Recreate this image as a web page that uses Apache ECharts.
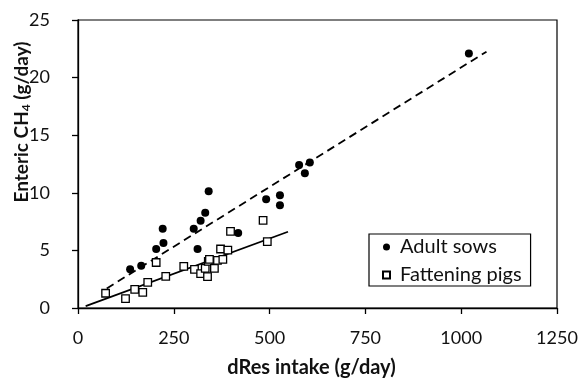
<!DOCTYPE html>
<html>
<head>
<meta charset="utf-8">
<script src="https://cdn.jsdelivr.net/npm/echarts@6/dist/echarts.min.js"></script>
<style>
html,body{margin:0;padding:0;background:#fff;}
#chart{width:582px;height:379px;}
</style>
</head>
<body>
<div id="chart"></div>
<script>
// Adult sows (dRes intake g/day, CH4 g/day)
var sowsX = [136, 165, 204, 223, 221, 302, 320, 332, 341, 312, 418, 491, 527, 527, 577, 605, 592, 1020];
var sowsY = [3.36, 3.67, 5.12, 5.64, 6.88, 6.88, 7.58, 8.27, 10.13, 5.12, 6.51, 9.43, 9.78, 8.92, 12.41, 12.62, 11.69, 22.1];
// Fattening pigs
var pigsX = [72, 124, 148, 169, 182, 204, 229, 276, 304, 320, 332, 338, 340, 343, 356, 364, 378, 372, 391, 398, 483, 494];
var pigsY = [1.28, 0.82, 1.62, 1.36, 2.23, 3.95, 2.75, 3.62, 3.36, 2.98, 3.44, 2.72, 4.05, 4.22, 3.44, 4.13, 4.22, 5.12, 5.03, 6.66, 7.6, 5.76];
// Fitted trend lines (endpoints)
var sowsFitX = [75, 1066];
var sowsFitY = [1.70, 22.25];
var pigsFitX = [20, 548];
var pigsFitY = [0.17, 6.62];
// Axis ticks
var xTicks = [0, 250, 500, 750, 1000, 1250];
var yTicks = [0, 5, 10, 15, 20, 25];

function pairs(xs, ys) { return xs.map(function (x, i) { return [x, ys[i]]; }); }

var FONT = 'Lato';
var chart = echarts.init(document.getElementById('chart'), null, {renderer: 'canvas'});
chart.setOption({
  animation: false,
  backgroundColor: '#ffffff',
  textStyle: {fontFamily: FONT},
  grid: {left: 78, right: 25, top: 20, bottom: 71, outerBoundsMode: 'none', containLabel: false,
         show: true, borderColor: '#000', borderWidth: 1.2, backgroundColor: 'transparent'},
  xAxis: {
    type: 'value', min: xTicks[0], max: xTicks[xTicks.length - 1], interval: xTicks[1] - xTicks[0],
    splitLine: {show: false},
    axisLine: {lineStyle: {color: '#000', width: 1.3}},
    axisTick: {show: true, length: 6, lineStyle: {color: '#000', width: 1.3}},
    axisLabel: {color: '#111', fontSize: 18, margin: 21, fontFamily: FONT, formatter: function (v) { return String(v); }},
    name: 'dRes intake (g/day)', nameLocation: 'middle', nameGap: 50,
    nameTextStyle: {color: '#111', fontSize: 20, fontWeight: 'bold', fontFamily: FONT, padding: [0, 12, 0, 0]}
  },
  yAxis: {
    type: 'value', min: yTicks[0], max: yTicks[yTicks.length - 1], interval: yTicks[1] - yTicks[0],
    splitLine: {show: false},
    axisLine: {lineStyle: {color: '#000', width: 1.3}},
    axisTick: {show: true, length: 6, lineStyle: {color: '#000', width: 1.3}},
    axisLabel: {color: '#111', fontSize: 18, margin: 28, fontFamily: FONT}
  },
  graphic: [{
    type: 'text', x: 22, y: 122, rotation: Math.PI / 2,
    style: {
      text: '{a|Enteric CH}{s|4}{a| (g/day)}',
      align: 'center', verticalAlign: 'middle',
      rich: {
        a: {fontSize: 19, fontWeight: 'bold', fontFamily: FONT, fill: '#111', color: '#111'},
        s: {fontSize: 12, fontWeight: 'bold', fontFamily: FONT, fill: '#111', color: '#111', verticalAlign: 'bottom', padding: [9, 0, 0, 0]}
      }
    }
  }],
  legend: {
    orient: 'vertical', left: 369, top: 234,
    data: [{name: 'Adult sows', icon: 'circle'}, {name: 'Fattening pigs', icon: 'rect'}],
    itemWidth: 7, itemHeight: 7, itemGap: 8,
    padding: [3, 9, 1, 13],
    borderColor: '#000', borderWidth: 1.2, backgroundColor: '#fff',
    textStyle: {fontSize: 20, color: '#111', fontFamily: FONT, lineHeight: 20, padding: [0, 0, 0, 5]},
    selectedMode: false
  },
  series: [
    {
      name: 'Sows fit', type: 'line', data: pairs(sowsFitX, sowsFitY), showSymbol: false, symbol: 'none',
      lineStyle: {color: '#000', width: 1.8, type: [8, 5]}, silent: true, z: 1
    },
    {
      name: 'Pigs fit', type: 'line', data: pairs(pigsFitX, pigsFitY), showSymbol: false, symbol: 'none',
      lineStyle: {color: '#000', width: 1.8}, silent: true, z: 1
    },
    {
      name: 'Adult sows', type: 'scatter', symbol: 'circle', symbolSize: 8,
      data: pairs(sowsX, sowsY),
      itemStyle: {color: '#000', opacity: 1}, z: 3
    },
    {
      name: 'Fattening pigs', type: 'scatter', symbol: 'rect', symbolSize: 7.5,
      data: pairs(pigsX, pigsY),
      itemStyle: {color: '#fff', borderColor: '#000', borderWidth: 1.3, opacity: 1}, z: 2
    }
  ]
});
</script>
</body>
</html>
